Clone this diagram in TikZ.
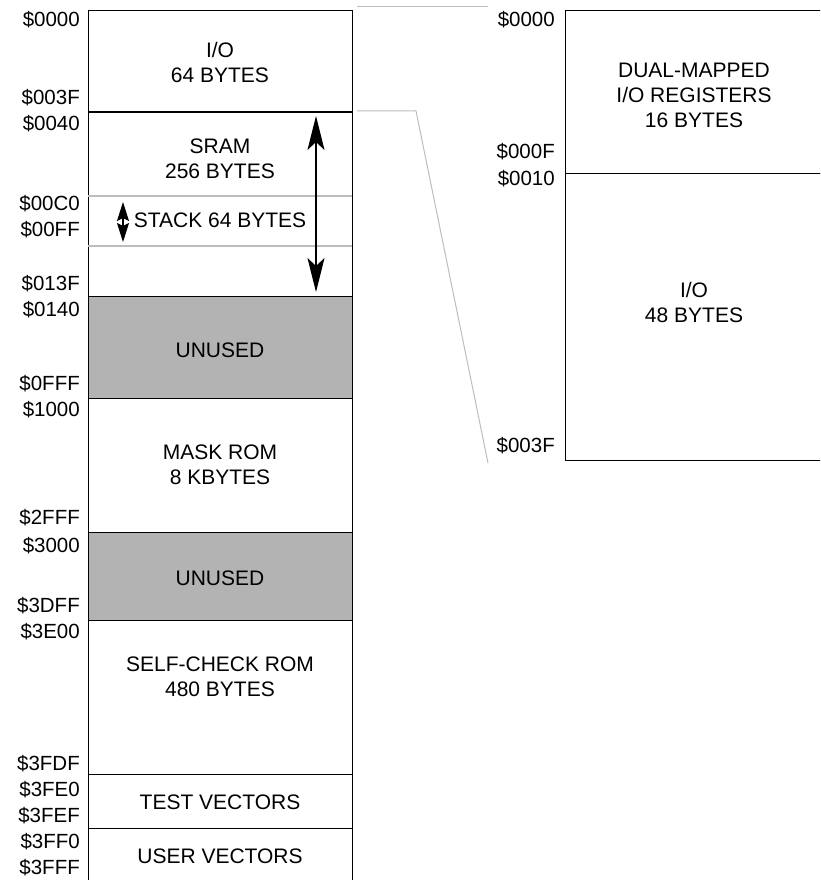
\documentclass[tikz,border=0pt]{standalone}
\usepackage{fontspec}
\setmainfont{Liberation Sans}
\usetikzlibrary{arrows.meta}
\definecolor{sepgray}{HTML}{BDBDBD}
\definecolor{unusedgray}{HTML}{B3B3B3}
\begin{document}
\begin{tikzpicture}[x=1pt,y=-1pt,
  region/.style={draw=black,line width=1.3pt,minimum width=264pt,inner sep=0pt,anchor=north west},
  rregion/.style={draw=black,line width=1.3pt,minimum width=260pt,inner sep=0pt,anchor=north west},
  lbl/.style={font=\fontsize{21}{25}\selectfont,align=center,inner sep=0pt},
  addr/.style={font=\fontsize{20.5}{24}\selectfont,anchor=east,inner sep=0pt},
  sep/.style={draw=sepgray,line width=1.2pt},
  link/.style={draw=sepgray,line width=1pt},
  span/.style={line width=1.2pt,arrows={Stealth[length=34pt,width=17pt,inset=8pt]-Stealth[length=34pt,width=17pt,inset=8pt]}},
  stk/.style={line width=1.2pt,arrows={Stealth[length=19pt,width=12pt,inset=3pt]-Stealth[length=19pt,width=12pt,inset=3pt]}}]
\clip (0,0) rectangle (820,880);
\fill[white] (0,0) rectangle (820,880);
% left memory map
\node[region,minimum height=102pt] (io) at (88,10) {};
\node[region,minimum height=184pt] (sram) at (88,112) {};
\node[region,minimum height=102pt,fill=unusedgray] (unused1) at (88,296) {};
\node[region,minimum height=134pt] (mask) at (88,398) {};
\node[region,minimum height=88pt,fill=unusedgray] (unused2) at (88,532) {};
\node[region,minimum height=154pt] (self) at (88,620) {};
\node[region,minimum height=54pt] (test) at (88,774) {};
\node[region,minimum height=70pt] (user) at (88,828) {};
\coordinate (s1l) at (88,196); \coordinate (s1r) at (352,196);
\coordinate (s2l) at (88,246); \coordinate (s2r) at (352,246);
\draw[sep] (s1l) -- (s1r);
\draw[sep] (s2l) -- (s2r);
\draw[line width=1.3pt] (88,112) -- (352,112);
% texts
\node[lbl] (tio) at (220,62) {I/O\\64 BYTES};
\node[lbl] (tsram) at (220,159) {SRAM\\256 BYTES};
\node[lbl] (tstack) at (220,220) {STACK 64 BYTES};
\node[lbl] (tun1) at (220,350) {UNUSED};
\node[lbl] (tmask) at (220,465) {MASK ROM\\8 KBYTES};
\node[lbl] (tun2) at (220,578) {UNUSED};
\node[lbl] (tself) at (220,677) {SELF-CHECK ROM\\480 BYTES};
\node[lbl] (ttest) at (220,802) {TEST VECTORS};
\node[lbl] (tuser) at (220,856) {USER VECTORS};
% arrows
\coordinate (aTop) at (316,116); \coordinate (aBot) at (316,292);
\draw[span] (aTop) -- (aBot);
\coordinate (sTop) at (123,202); \coordinate (sBot) at (123,242);
\draw[stk] (sTop) -- (sBot);
% left addresses
\node[addr] at (80,20) {\$0000};
\node[addr] at (80,98) {\$003F};
\node[addr] at (80,124) {\$0040};
\node[addr] at (80,204) {\$00C0};
\node[addr] at (80,230) {\$00FF};
\node[addr] at (80,284) {\$013F};
\node[addr] at (80,310) {\$0140};
\node[addr] at (80,384) {\$0FFF};
\node[addr] at (80,410) {\$1000};
\node[addr] at (80,518) {\$2FFF};
\node[addr] at (80,546) {\$3000};
\node[addr] at (80,606) {\$3DFF};
\node[addr] at (80,632) {\$3E00};
\node[addr] at (80,764) {\$3FDF};
\node[addr] at (80,790) {\$3FE0};
\node[addr] at (80,816) {\$3FEF};
\node[addr] at (80,842) {\$3FF0};
\node[addr] at (80,868) {\$3FFF};
% right expanded map
\node[rregion,minimum height=163pt] (dual) at (565,10) {};
\node[rregion,minimum height=287pt] (rio) at (565,173) {};
\node[lbl] (tdual) at (694,95) {DUAL-MAPPED\\I/O REGISTERS\\16 BYTES};
\node[lbl] (trio) at (694,302) {I/O\\48 BYTES};
\node[addr] at (555,20) {\$0000};
\node[addr] at (555,152) {\$000F};
\node[addr] at (555,179) {\$0010};
\node[addr] at (555,446) {\$003F};
% zoom lines
\coordinate (z1a) at (357,7); \coordinate (z1b) at (488,7);
\coordinate (z2a) at (357,111); \coordinate (z2b) at (416,111); \coordinate (z2c) at (488,463);
\draw[link] (z1a) -- (z1b);
\draw[link] (z2a) -- (z2b) -- (z2c);
\end{tikzpicture}
\end{document}
